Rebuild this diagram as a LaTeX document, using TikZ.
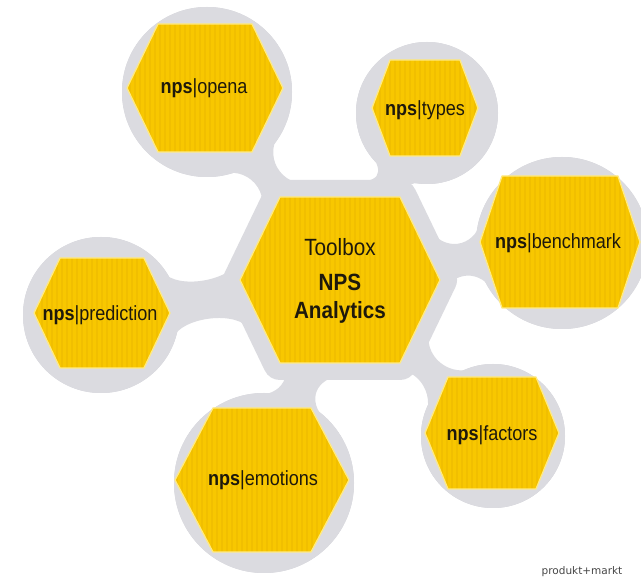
\documentclass[tikz,border=0pt]{standalone}
\usepackage{fontspec}
\setmainfont[FakeStretch=0.88]{Liberation Sans}
\newfontfamily\pmfont{DejaVu Sans}
\usetikzlibrary{calc}
\definecolor{hexfill}{RGB}{248,199,0}
\definecolor{hexstripe}{RGB}{241,191,0}
\definecolor{hexline}{RGB}{255,234,130}
\definecolor{halo}{RGB}{219,219,224}
\definecolor{haloshadow}{RGB}{207,207,215}
\definecolor{txt}{RGB}{30,25,12}
\definecolor{pmgray}{RGB}{70,70,70}

% hexagon: cx, cy, half width, half height, half top edge
\newcommand\hexa[5]{%
  \fill[hexfill] ({#1-#3},#2) -- ({#1-#5},{#2-#4}) -- ({#1+#5},{#2-#4}) -- ({#1+#3},#2) -- ({#1+#5},{#2+#4}) -- ({#1-#5},{#2+#4}) -- cycle;
  \begin{scope}
    \clip ({#1-#3},#2) -- ({#1-#5},{#2-#4}) -- ({#1+#5},{#2-#4}) -- ({#1+#3},#2) -- ({#1+#5},{#2+#4}) -- ({#1-#5},{#2+#4}) -- cycle;
    \foreach \k in {-20,...,20} \draw[hexstripe, line width=1.3] ({#1+\k*5},{#2-#4}) -- ({#1+\k*5},{#2+#4});
  \end{scope}
  \draw[hexline, line width=1.3, line join=round] ({#1-#3},#2) -- ({#1-#5},{#2-#4}) -- ({#1+#5},{#2-#4}) -- ({#1+#3},#2) -- ({#1+#5},{#2+#4}) -- ({#1-#5},{#2+#4}) -- cycle;
}

% concave connector: A, B, Ra, Rb, alpha, beta, waist offset
\newcommand\tent[7]{%
  \pgfmathsetmacro\tentA{#3*cos(#5)+(#3*sin(#5)-#7)*tan(#5)}%
  \pgfmathsetmacro\tentB{#4*cos(#6)+(#4*sin(#6)-#7)*tan(#6)}%
  \fill[halo] ($(#1)!#3pt!#5:(#2)$)
    .. controls ($(#1)!\tentA pt!(#2)!#7pt!90:(#2)$) and ($(#2)!\tentB pt!(#1)!#7pt!-90:(#1)$) .. ($(#2)!#4pt!-#6:(#1)$)
    -- ($(#2)!#4pt!#6:(#1)$)
    .. controls ($(#2)!\tentB pt!(#1)!#7pt!90:(#1)$) and ($(#1)!\tentA pt!(#2)!#7pt!-90:(#2)$) .. ($(#1)!#3pt!-#5:(#2)$)
    -- cycle;
}

\newcommand\circles[1]{%
  \fill[#1] (hopena) circle[radius=85];
  \fill[#1] (htypes) circle[radius=71];
  \fill[#1] (hbench) circle[radius=86];
  \fill[#1] (hpred) circle[radius=78];
  \fill[#1] (hemot) circle[radius=90];
  \fill[#1] (hfact) circle[radius=72];
}

\begin{document}
\begin{tikzpicture}[x=1pt,y=-1pt,
  lbl/.style={text=txt, inner sep=0pt, font=\fontsize{20.5}{24}\selectfont},
  bigl/.style={text=txt, inner sep=0pt, align=center, font=\fontsize{23.5}{28}\selectfont}]
\useasboundingbox (0,0) rectangle (641,577);
\fill[white] (0,0) rectangle (641,577);

\coordinate (c0) at (340,280);
\coordinate (hopena) at (207,92);
\coordinate (htypes) at (427,113);
\coordinate (hbench) at (562,243);
\coordinate (hpred) at (101,315);
\coordinate (hemot) at (264,483);
\coordinate (hfact) at (493,436);

\begin{scope}[shift={(5,6)}]
  \circles{haloshadow}
\end{scope}
\circles{halo}
\filldraw[halo, line width=34, line join=round] (240,280) -- (280,197) -- (400,197) -- (440,280) -- (400,363) -- (280,363) -- cycle;
\tent{c0}{hopena}{99}{83}{23}{24}{6}
\tent{c0}{htypes}{99}{69}{23}{28}{9}
\tent{c0}{hbench}{103}{84}{21}{24}{10}
\tent{c0}{hfact}{101}{70}{21}{28}{6.5}
\tent{c0}{hemot}{95}{88}{24}{24}{10.5}
\tent{c0}{hpred}{103}{76}{21}{26}{14}

\hexa{340}{280}{100}{83}{60}
\hexa{205}{88}{78}{64}{47}
\hexa{425}{108}{53}{48}{35}
\hexa{560}{242}{80}{66}{58}
\hexa{102}{313}{68}{55}{42}
\hexa{262}{480}{87}{72}{49}
\hexa{492}{433}{67}{56}{44}

\node[bigl] (center) at (340,281) {Toolbox\\[7pt]\textbf{NPS}\\\textbf{Analytics}};
\node[lbl] (opena) at (204,88) {\textbf{nps}|opena};
\node[lbl] (types) at (425,110) {\textbf{nps}|types};
\node[lbl] (bench) at (558,243) {\textbf{nps}|benchmark};
\node[lbl] (pred) at (100,315) {\textbf{nps}|prediction};
\node[lbl] (emot) at (263,480) {\textbf{nps}|emotions};
\node[lbl] (fact) at (492,435) {\textbf{nps}|factors};
\node[text=pmgray, inner sep=0pt, font=\pmfont\fontsize{10.5}{12}\selectfont] (pm) at (582,572) {produkt+markt};
\end{tikzpicture}
\end{document}
